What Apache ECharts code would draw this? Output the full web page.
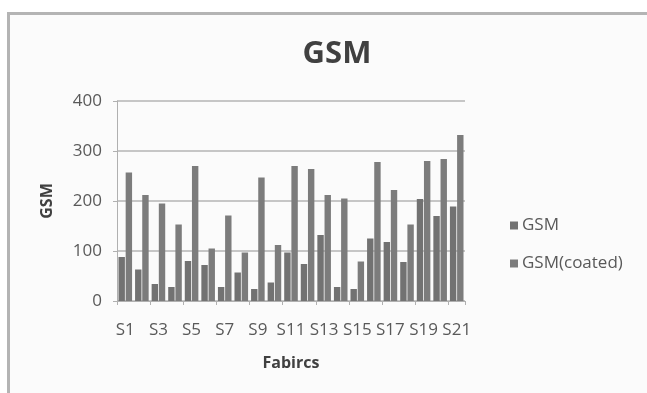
<!DOCTYPE html>
<html><head><meta charset="utf-8">
<script src="https://cdn.jsdelivr.net/npm/echarts@6/dist/echarts.min.js"></script>
<style>
html,body{margin:0;padding:0;background:#fff;}
#frame{position:absolute;left:7px;top:12px;width:640px;height:381px;border-left:3px solid #b4b4b4;border-top:3px solid #b4b4b4;background:#fbfbfb;box-sizing:border-box;}
#c{position:absolute;left:0;top:0;width:647px;height:393px;}
</style></head>
<body><div id="frame"></div><div id="c"></div>
<script>
var categories = ['S1','S2','S3','S4','S5','S6','S7','S8','S9','S10','S11','S12','S13','S14','S15','S16','S17','S18','S19','S20','S21'];
var gsm = [88,63,34,28,80,72,28,57,24,37,97,74,132,28,24,125,118,78,204,170,189];
var gsmCoated = [257,212,195,153,270,105,171,97,247,112,270,264,212,205,79,278,222,153,280,284,332];
var yTicks = [0,100,200,300,400];

var chart = echarts.init(document.getElementById('c'));
var font = 'Open Sans';
chart.setOption({
  backgroundColor: 'transparent',
  animation: false,
  title: {text: 'GSM', left: 332, textAlign: 'center', top: 34,
    textStyle: {fontFamily: font, fontSize: 31, fontWeight: 'bold', color: '#404040'}},
  legend: {orient: 'vertical', left: 505, top: 212, itemGap: 21, itemWidth: 8, itemHeight: 8,
    icon: 'rect', textStyle: {fontFamily: font, fontSize: 17, color: '#595959', padding: [0,0,0,-1]},
    data: ['GSM','GSM(coated)']},
  grid: {left: 117, right: 182, top: 101, bottom: 92},
  xAxis: {type: 'category', data: categories,
    name: 'Fabircs', nameLocation: 'middle', nameGap: 54,
    nameTextStyle: {fontFamily: font, fontSize: 16, fontWeight: 'bold', color: '#404040'},
    axisLine: {lineStyle: {color: '#b0b0b0', width: 1}},
    axisTick: {show: true, length: 4, lineStyle: {color: '#b0b0b0'}},
    axisLabel: {interval: 1, fontFamily: font, fontSize: 17, color: '#595959', margin: 21}},
  yAxis: {type: 'value', min: yTicks[0], max: yTicks[yTicks.length-1], interval: 100,
    name: 'GSM', nameLocation: 'middle', nameGap: 62, nameRotate: 90,
    nameTextStyle: {fontFamily: font, fontSize: 16, fontWeight: 'bold', color: '#404040'},
    axisLine: {show: true, lineStyle: {color: '#b0b0b0'}},
    axisTick: {show: true, length: 4, lineStyle: {color: '#b0b0b0'}},
    splitLine: {lineStyle: {color: '#b4b4b4', width: 1.5}},
    axisLabel: {fontFamily: font, fontSize: 17, color: '#595959', margin: 15}},
  series: [
    {name: 'GSM', type: 'bar', data: gsm, itemStyle: {color: '#727272'}, barGap: '12%', barCategoryGap: '18%'},
    {name: 'GSM(coated)', type: 'bar', data: gsmCoated, itemStyle: {color: '#7c7c7c'}}
  ]
});
</script></body></html>
